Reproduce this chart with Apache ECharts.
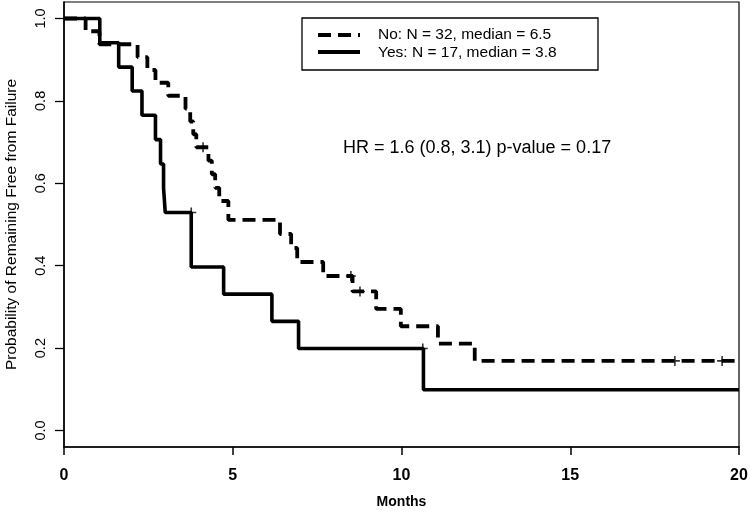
<!DOCTYPE html>
<html><head><meta charset="utf-8">
<script src="https://cdn.jsdelivr.net/npm/echarts@6/dist/echarts.min.js"></script>
<style>html,body{margin:0;padding:0;background:#fff}#c{width:750px;height:512px}</style>
</head><body><div id="c"></div>
<script>
// Kaplan-Meier step data (time in months, survival probability)
const noTimes = [0, 0.64, 1.05, 2.18, 2.47, 2.71, 3.09, 3.6, 3.74, 3.83, 3.92, 4.28, 4.38, 4.48, 4.6, 4.87, 6.4, 6.73, 6.91, 7.68, 8.55, 9.25, 9.98, 11.08, 12.17, 20];
const noSurv  = [1, 0.969, 0.9375, 0.906, 0.875, 0.844, 0.8125, 0.781, 0.75, 0.719, 0.6875, 0.655, 0.622, 0.589, 0.557, 0.511, 0.477, 0.443, 0.409, 0.375, 0.3375, 0.295, 0.253, 0.211, 0.169, 0.169];
const yesTimes = [0, 1.06, 1.62, 2.02, 2.31, 2.71, 2.86, 2.95, 3.0, 3.77, 4.73, 6.16, 6.95, 10.65, 20];
const yesSurv  = [1, 0.941, 0.882, 0.824, 0.765, 0.706, 0.647, 0.588, 0.529, 0.397, 0.331, 0.265, 0.199, 0.099, 0.099];
const noCensorTimes = [4.12, 8.5, 8.77, 18.1, 19.5];
const noCensorSurv  = [0.6875, 0.375, 0.3375, 0.169, 0.169];
const yesCensorTimes = [3.77, 10.63];
const yesCensorSurv  = [0.529, 0.199];
const yTicks = [0, 0.2, 0.4, 0.6, 0.8, 1.0];
const legendLabels = ['No: N = 32, median = 6.5', 'Yes: N = 17, median = 3.8'];
const hrText = 'HR = 1.6 (0.8, 3.1) p-value = 0.17';

const zip = (a, b) => a.map((t, i) => [t, b[i]]);
const plus = 'path://M-0.8,-5 L0.8,-5 L0.8,-0.8 L5,-0.8 L5,0.8 L0.8,0.8 L0.8,5 L-0.8,5 L-0.8,0.8 L-5,0.8 L-5,-0.8 L-0.8,-0.8 Z';
const FONT = 'Liberation Sans, Arial, sans-serif';

const chart = echarts.init(document.getElementById('c'), null, {renderer: 'canvas'});
chart.setOption({
  backgroundColor: '#fff',
  animation: false,
  grid: {left: 64, right: 11, top: 2, bottom: 65, show: true, borderColor: '#000', borderWidth: 1.2,
         containLabel: false, outerBoundsMode: 'none'},
  xAxis: {
    type: 'value', min: 0, max: 20, interval: 5,
    name: 'Months', nameLocation: 'middle', nameGap: 48,
    nameTextStyle: {fontFamily: FONT, fontSize: 14, fontWeight: 'bold', color: '#000'},
    axisLine: {show: true, onZero: false, lineStyle: {color: '#000', width: 1.5}},
    axisTick: {show: true, length: 8, lineStyle: {color: '#000', width: 1.5}},
    axisLabel: {fontFamily: FONT, fontSize: 16, fontWeight: 'bold', color: '#000', margin: 21},
    splitLine: {show: false}
  },
  yAxis: {
    type: 'value', min: -0.04, max: 1.04,
    name: 'Probability of Remaining Free from Failure', nameLocation: 'middle', nameGap: 44,
    nameTextStyle: {fontFamily: FONT, fontSize: 15.5, color: '#000'},
    axisLine: {show: true, onZero: false, lineStyle: {color: '#000', width: 1.5}},
    axisTick: {show: true, length: 9, customValues: yTicks, lineStyle: {color: '#000', width: 1.3}},
    axisLabel: {fontFamily: FONT, fontSize: 14.5, color: '#000', rotate: 90, margin: 16,
      customValues: yTicks, formatter: v => v.toFixed(1)},
    splitLine: {show: false}
  },
  series: [
    {name: 'No', type: 'line', step: 'end', symbol: 'none', data: zip(noTimes, noSurv),
     lineStyle: {color: '#000', width: 3.8, type: [13, 7], cap: 'butt'}},
    {name: 'Yes', type: 'line', step: 'end', symbol: 'none', data: zip(yesTimes, yesSurv),
     lineStyle: {color: '#000', width: 3.6, type: 'solid'}},
    {name: 'No censored', type: 'scatter', symbol: plus, symbolSize: 10, data: zip(noCensorTimes, noCensorSurv),
     itemStyle: {color: '#000'}},
    {name: 'Yes censored', type: 'scatter', symbol: plus, symbolSize: 10, data: zip(yesCensorTimes, yesCensorSurv),
     itemStyle: {color: '#000'}}
  ],
  graphic: [
    {type: 'rect', shape: {x: 302, y: 18, width: 296, height: 52}, style: {fill: '#fff', stroke: '#000', lineWidth: 1.3}, z: 10},
    {type: 'line', shape: {x1: 318, y1: 35, x2: 360, y2: 35}, style: {stroke: '#000', lineWidth: 3.8, lineDash: [13, 7]}, z: 11},
    {type: 'line', shape: {x1: 318, y1: 52, x2: 360, y2: 52}, style: {stroke: '#000', lineWidth: 3.8}, z: 11},
    {type: 'text', x: 378, y: 35, style: {text: legendLabels[0], font: '15.5px ' + FONT, fill: '#000', verticalAlign: 'middle'}, z: 11},
    {type: 'text', x: 378, y: 53, style: {text: legendLabels[1], font: '15.5px ' + FONT, fill: '#000', verticalAlign: 'middle'}, z: 11},
    {type: 'text', x: 343, y: 148, style: {text: hrText, font: '18px ' + FONT, fill: '#000', verticalAlign: 'middle'}, z: 11}
  ]
});
</script></body></html>
